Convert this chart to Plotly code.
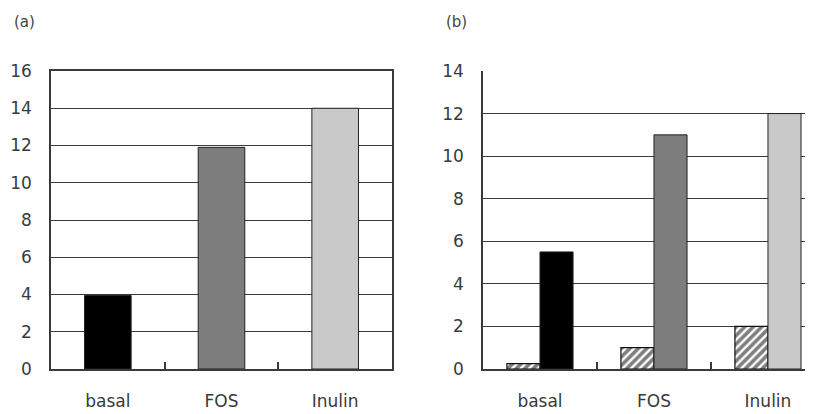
import plotly.graph_objects as go

categories = ["basal", "FOS", "Inulin"]
values_a = [3.95, 11.9, 14.0]
values_b_hatched = [0.25, 1.0, 2.0]
values_b_solid = [5.5, 11.0, 12.0]
bar_colors = ["#000000", "#7d7d7d", "#c9c9c9"]
yticks_a = [0, 2, 4, 6, 8, 10, 12, 14, 16]
yticks_b = [0, 2, 4, 6, 8, 10, 12, 14]

OFF = 8  # default page body margin
W, H = 813 - OFF, 414 - OFF
family = "DejaVu Sans, Verdana, sans-serif"
font = dict(family=family, size=17, color="#3a3a3a")
line_col = "#3a3a3a"

fig = go.Figure()
fig.add_trace(go.Bar(x=categories, y=values_a, width=0.41,
                     marker=dict(color=bar_colors, line=dict(color="#222222", width=1)),
                     xaxis="x", yaxis="y", showlegend=False))
fig.add_trace(go.Bar(x=categories, y=values_b_hatched, offset=-0.29, width=0.29,
                     marker=dict(color="white", line=dict(color="#111111", width=1.2),
                                 pattern=dict(shape="/", fgcolor="#000000", bgcolor="white",
                                              size=6, solidity=0.6)),
                     xaxis="x2", yaxis="y2", showlegend=False))
fig.add_trace(go.Bar(x=categories, y=values_b_solid, offset=0.0, width=0.29,
                     marker=dict(color=bar_colors, line=dict(color="#222222", width=1)),
                     xaxis="x2", yaxis="y2", showlegend=False))


def px(v):
    return (v - OFF) / W


def py(v):
    return 1 - (v - OFF) / H


ydom = [py(369), py(71)]
xaxis_common = dict(type="category", showgrid=False, showline=True, linecolor=line_col,
                    linewidth=1.5, ticks="inside", tickson="boundaries", ticklen=7,
                    tickcolor=line_col, tickwidth=1.5, ticklabelstandoff=16,
                    tickfont=font, zeroline=False, fixedrange=True, automargin=False)
yaxis_common = dict(showgrid=True, gridcolor=line_col, gridwidth=1.2, showline=True,
                    linecolor=line_col, linewidth=1.5, ticks="", tickfont=font,
                    ticklabelstandoff=14, zeroline=False, domain=ydom, automargin=False)

fig.update_layout(
    width=W, height=H,
    margin=dict(l=0, r=0, t=0, b=0),
    paper_bgcolor="white", plot_bgcolor="white",
    barmode="overlay",
    xaxis=dict(**xaxis_common, domain=[px(51), px(392)], range=[-0.5, 2.5],
               mirror=True, anchor="y"),
    yaxis=dict(**yaxis_common, range=[0, 16], tickvals=yticks_a, anchor="x",
               mirror=True),
    xaxis2=dict(**xaxis_common, domain=[px(483), 1.0], range=[-0.5, 2.395], anchor="y2"),
    yaxis2=dict(**yaxis_common, range=[0, 14], tickvals=yticks_b, anchor="x2"),
    annotations=[
        dict(text="(a)", x=px(12), y=py(22), xref="paper", yref="paper",
             xanchor="left", yanchor="middle", showarrow=False,
             font=dict(family=family, size=15, color="#444444")),
        dict(text="(b)", x=px(444), y=py(22), xref="paper", yref="paper",
             xanchor="left", yanchor="middle", showarrow=False,
             font=dict(family=family, size=15, color="#444444")),
    ],
)

fig.write_html("out.html")
